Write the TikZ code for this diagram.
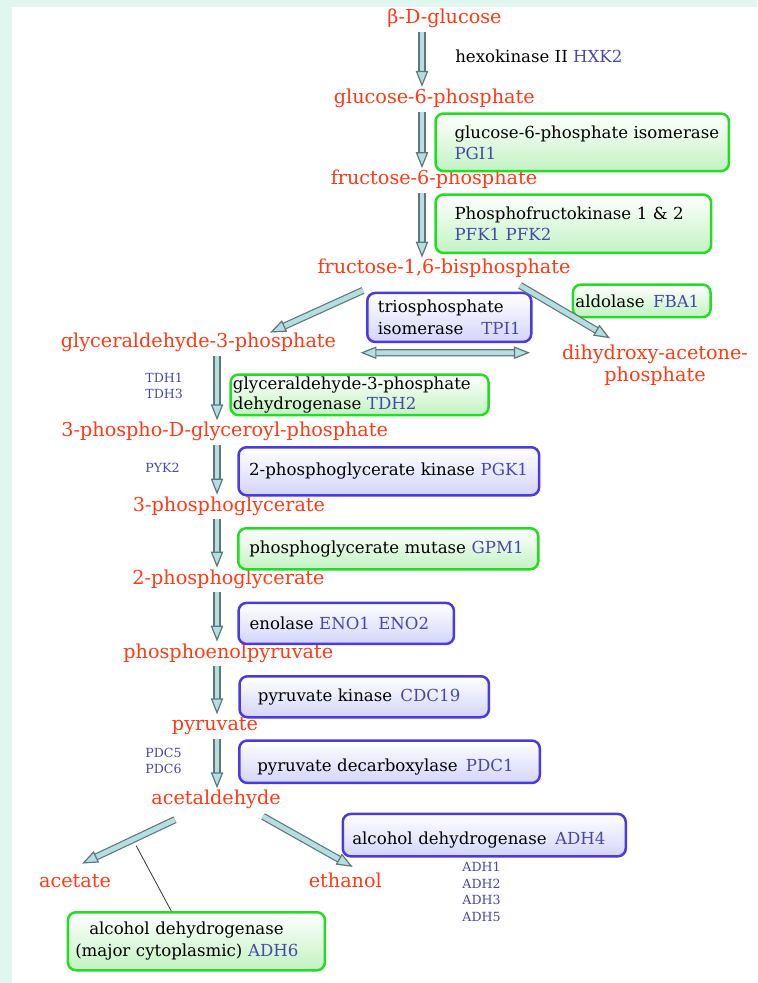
\documentclass[tikz,border=0pt]{standalone}
\usepackage{fontspec}
\setmainfont{DejaVu Serif}
\usetikzlibrary{arrows.meta}
\definecolor{metred}{HTML}{FF3A14}
\definecolor{geneblue}{HTML}{4848A8}
\definecolor{gboxline}{HTML}{22DD22}
\definecolor{gboxfill}{HTML}{C2F2C2}
\definecolor{bboxline}{HTML}{4A3AE0}
\definecolor{bboxfill}{HTML}{D4D4FA}
\definecolor{arredge}{HTML}{5E7878}
\definecolor{arrfill}{HTML}{B6DDE0}
\definecolor{bgmint}{HTML}{E2F6F0}
\newcommand{\gene}[1]{\textcolor{geneblue}{#1}}
\begin{document}
\begin{tikzpicture}[x=0.5pt, y=-0.5pt,
    chem/.style={font=\fontsize{9.6}{11}\selectfont, text=metred, inner sep=1.5pt},
    metab/.style={chem, text height=6.5pt, text depth=2.5pt},
    enz/.style={rectangle, rounded corners=4pt, line width=1.25pt, anchor=north west, align=left, inner ysep=0pt, font=\fontsize{8.3}{10.5}\selectfont},
    gbox/.style={enz, draw=gboxline, top color=white, bottom color=gboxfill},
    bbox/.style={enz, draw=bboxline, top color=white, bottom color=bboxfill},
    tag/.style={anchor=west, align=left, inner sep=0pt, text=geneblue, font=\fontsize{6.3}{8}\selectfont},
    fattip/.tip={Triangle[length=8pt, width=6.2pt, fill=arrfill, line width=0.6pt]},
    fat/.style={draw=arredge, line width=0.6pt, double=arrfill, double distance=2.4pt, -{fattip}},
    fatboth/.style={fat, {fattip}-{fattip}},
    pointer/.style={draw=black!80, line width=0.4pt}
]
\useasboundingbox (0,0) rectangle (757,983);
\fill[bgmint] (0,0) rectangle (757,983);
\fill[white] (12,7) rectangle (757,983);

% columns of the main arrows
\coordinate (colA) at (422,0);
\coordinate (colB) at (217,0);

% metabolites
\node[metab] (glc) at (444.5,20) {β-D-glucose};
\node[metab] (g6p) at (434.3,99.3) {glucose-6-phosphate};
\node[metab] (f6p) at (434,180.5) {fructose-6-phosphate};
\node[metab] (fbp) at (444,270) {fructose-1,6-bisphosphate};
\node[metab] (gap) at (198.5,344) {glyceraldehyde-3-phosphate};
\node[chem, align=center] (dhap) at (655,365) {dihydroxy-acetone-\\phosphate};
\node[metab] (bpg) at (224.7,432.7) {3-phospho-D-glyceroyl-phosphate};
\node[metab] (pg3) at (229,507) {3-phosphoglycerate};
\node[metab] (pg2) at (228.5,580) {2-phosphoglycerate};
\node[metab] (pep) at (228.3,654) {phosphoenolpyruvate};
\node[metab] (pyr) at (215,726.7) {pyruvate};
\node[metab] (acal) at (216,800.7) {acetaldehyde};
\node[metab] (acet) at (75,883) {acetate};
\node[metab] (etoh) at (345.3,883) {ethanol};

% enzymes
\node[enz, anchor=west, inner sep=0pt] (hxk) at (454,56.7) {hexokinase II \gene{HXK2}};
\node[gbox, minimum width=146.7pt, minimum height=28.8pt, inner xsep=9.5pt, text width=127.7pt] (pgi) at (434.3,112.3) {\mbox{glucose-6-phosphate isomerase}\\\gene{PGI1}};
\node[gbox, minimum width=137.8pt, minimum height=29.2pt, inner xsep=9.5pt, text width=118.8pt] (pfk) at (434.3,193.3) {\mbox{Phosphofructokinase 1 \& 2}\\\gene{PFK1 PFK2}};
\node[bbox, minimum width=82pt, minimum height=24.5pt, inner xsep=5.3pt, text width=71.4pt, font=\fontsize{8.3}{10.8}\selectfont] (tpi) at (366,291.7) {triosphosphate\\isomerase\hfill\gene{TPI1}};
\node[gbox, minimum width=68.8pt, minimum height=16.3pt, inner xsep=1.2pt, text width=66.4pt] (fba) at (571.7,283.3) {\mbox{aldolase\enspace\gene{FBA1}}};
\node[gbox, minimum width=129pt, minimum height=20.3pt, inner xsep=1.2pt, text width=126.6pt, font=\fontsize{8.3}{10}\selectfont] (tdh) at (229.3,373.3) {\mbox{glyceraldehyde-3-phosphate}\\\mbox{dehydrogenase \gene{TDH2}}};
\node[bbox, minimum width=150.3pt, minimum height=24pt, inner xsep=5.3pt, text width=139.7pt] (pgk) at (237.3,446) {\mbox{2-phosphoglycerate kinase \gene{PGK1}}};
\node[gbox, minimum width=150pt, minimum height=20.5pt, inner xsep=5.5pt, text width=139pt] (gpm) at (237,527) {\mbox{phosphoglycerate mutase \gene{GPM1}}};
\node[bbox, minimum width=107.7pt, minimum height=20.5pt, inner xsep=5.5pt, text width=96.7pt] (eno) at (237.3,601.7) {\mbox{enolase \gene{ENO1\enspace ENO2}}};
\node[bbox, minimum width=124.7pt, minimum height=20.5pt, inner xsep=9.2pt, text width=106.3pt] (cdc) at (238.3,675) {\mbox{pyruvate kinase\enspace\gene{CDC19}}};
\node[bbox, minimum width=150.3pt, minimum height=21.2pt, inner xsep=9pt, text width=132.3pt, text height=12pt] (pdc) at (238,739.3) {\mbox{pyruvate decarboxylase\enspace\gene{PDC1}}};
\node[bbox, minimum width=141.5pt, minimum height=21.2pt, inner xsep=4.75pt, text width=132pt, text height=11.5pt] (adh4) at (341.5,812.7) {\mbox{alcohol dehydrogenase\enspace\gene{ADH4}}};
\node[gbox, minimum width=128.5pt, minimum height=29pt, inner xsep=3.65pt, text width=121.2pt, font=\fontsize{8.3}{11.2}\selectfont] (adh6) at (66.7,911) {\hspace*{7pt}\mbox{alcohol dehydrogenase}\\\mbox{(major cytoplasmic) \gene{ADH6}}};

% isoenzymes
\node[tag] (tdhiso) at (145,386.3) {TDH1\\TDH3};
\node[tag] (pyk) at (145,468) {PYK2};
\node[tag] (pdciso) at (145,761.3) {PDC5\\PDC6};
\node[tag, font=\fontsize{6.3}{8.2}\selectfont] (adhiso) at (462,892) {ADH1\\ADH2\\ADH3\\ADH5};

% reactions
\draw[fat] (glc.south -| colA) -- (g6p.north -| colA);
\draw[fat] (g6p.south -| colA) -- (f6p.north -| colA);
\draw[fat] (f6p.south -| colA) -- (fbp.north -| colA);
\draw[fat] ([shift={(-81,8)}]fbp.south) -- ([shift={(71.5,1)}]gap.north);
\draw[fat] ([shift={(76,3)}]fbp.south) -- ([shift={(-45,-3)}]dhap.north);
\draw[fatboth] ([shift={(21,8.7)}]gap.east) -- ([shift={(-28.7,-12.3)}]dhap.west);
\draw[fat] (gap.south -| colB) -- (bpg.north -| colB);
\draw[fat] (bpg.south -| colB) -- (pg3.north -| colB);
\draw[fat] (pg3.south -| colB) -- (pg2.north -| colB);
\draw[fat] (pg2.south -| colB) -- (pep.north -| colB);
\draw[fat] (pep.south -| colB) -- (pyr.north -| colB);
\draw[fat] (pyr.south -| colB) -- (acal.north -| colB);
\draw[fat] ([shift={(-41,6.6)}]acal.south) -- ([shift={(7,-7)}]acet.north) coordinate[pos=0.417] (adhon);
\draw[fat] ([shift={(47,3.3)}]acal.south) -- ([shift={(7.4,-3.7)}]etoh.north);
\draw[pointer] ([yshift=-3.9pt]adhon) -- ([xshift=-12.6pt]adh6.north);
\end{tikzpicture}
\end{document}
